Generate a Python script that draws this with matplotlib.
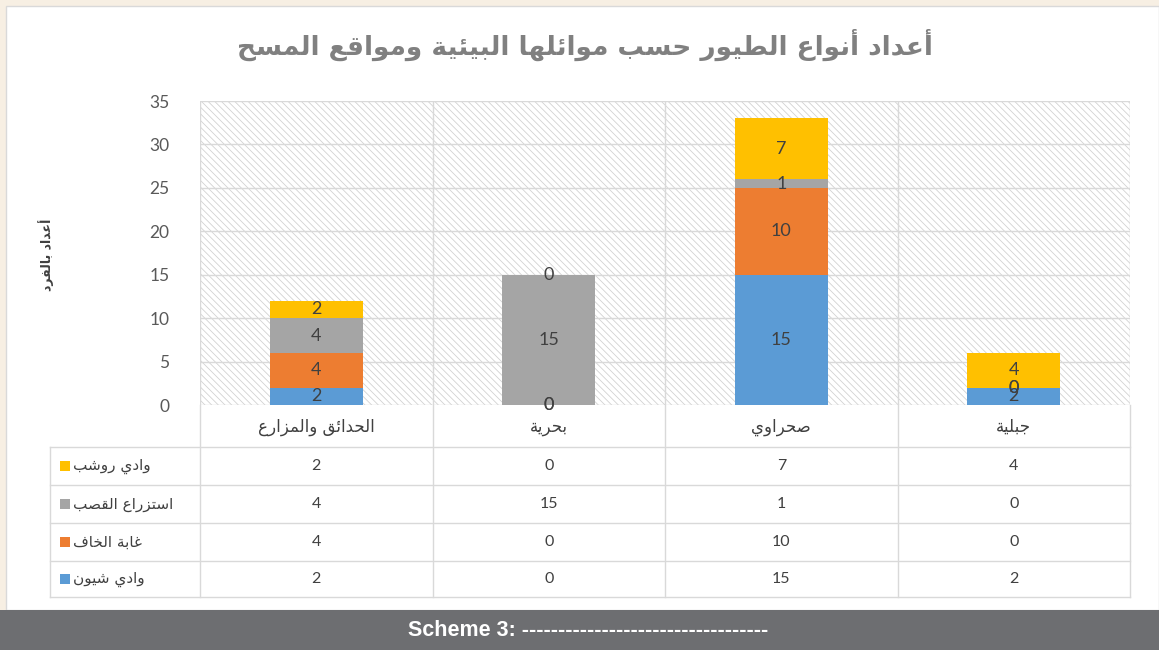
import matplotlib
matplotlib.use("Agg")
import matplotlib.pyplot as plt
from matplotlib.patches import Rectangle
import numpy as np

# data
categories = ["الحدائق والمزارع", "بحرية", "صحراوي", "جبلية"]
series_names = ["وادي شيون", "غابة الخاف", "استزراع القصب", "وادي روشب"]
shayoun = [2, 0, 15, 2]
khaf = [4, 0, 10, 0]
qasab = [4, 15, 1, 0]
rosheb = [2, 0, 7, 4]
series_values = [shayoun, khaf, qasab, rosheb]
colors = ["#5b9bd5", "#ed7d31", "#a5a5a5", "#ffc000"]

title = "أعداد أنواع الطيور حسب موائلها البيئية ومواقع المسح"
ylabel = "أعداد بالفرد"
caption = "Scheme 3: " + "-" * 34

# simple arabic shaping (contextual forms + right-to-left order)
FORMS = {
    'ء': (0xFE80, 1), 'آ': (0xFE81, 2), 'أ': (0xFE83, 2), 'ؤ': (0xFE85, 2), 'إ': (0xFE87, 2),
    'ئ': (0xFE89, 4), 'ا': (0xFE8D, 2), 'ب': (0xFE8F, 4), 'ة': (0xFE93, 2), 'ت': (0xFE95, 4),
    'ث': (0xFE99, 4), 'ج': (0xFE9D, 4), 'ح': (0xFEA1, 4), 'خ': (0xFEA5, 4), 'د': (0xFEA9, 2),
    'ذ': (0xFEAB, 2), 'ر': (0xFEAD, 2), 'ز': (0xFEAF, 2), 'س': (0xFEB1, 4), 'ش': (0xFEB5, 4),
    'ص': (0xFEB9, 4), 'ض': (0xFEBD, 4), 'ط': (0xFEC1, 4), 'ظ': (0xFEC5, 4), 'ع': (0xFEC9, 4),
    'غ': (0xFECD, 4), 'ف': (0xFED1, 4), 'ق': (0xFED5, 4), 'ك': (0xFED9, 4), 'ل': (0xFEDD, 4),
    'م': (0xFEE1, 4), 'ن': (0xFEE5, 4), 'ه': (0xFEE9, 4), 'و': (0xFEED, 2), 'ى': (0xFEEF, 2),
    'ي': (0xFEF1, 4),
}
LAM_ALEF = {'ا': 0xFEFB, 'أ': 0xFEF7, 'إ': 0xFEF9, 'آ': 0xFEF5}


def shape(s):
    chars = []
    i = 0
    while i < len(s):
        if s[i] == 'ل' and i + 1 < len(s) and s[i + 1] in LAM_ALEF:
            chars.append(('LA', s[i + 1]))
            i += 2
        else:
            chars.append(s[i])
            i += 1
    out = []
    for k, c in enumerate(chars):
        prev = chars[k - 1] if k > 0 else None
        nxt = chars[k + 1] if k + 1 < len(chars) else None
        joins_prev = (prev is not None and not isinstance(prev, tuple)
                      and FORMS.get(prev, (0, 0))[1] == 4)
        if isinstance(c, tuple):
            out.append(chr(LAM_ALEF[c[1]] + (1 if joins_prev else 0)))
            continue
        if c not in FORMS:
            out.append(c)
            continue
        base, n = FORMS[c]
        joins_next = n == 4 and nxt is not None and (
            isinstance(nxt, tuple) or (nxt in FORMS and FORMS[nxt][1] > 1))
        if n == 1:
            code = base
        elif n == 2:
            code = base + (1 if joins_prev else 0)
        else:
            if joins_prev and joins_next:
                code = base + 3
            elif joins_prev:
                code = base + 1
            elif joins_next:
                code = base + 2
            else:
                code = base
        out.append(chr(code))
    return ''.join(reversed(out))


plt.rcParams['font.family'] = ['Lato', 'DejaVu Sans']
plt.rcParams['hatch.linewidth'] = 0.6
W, H = 1159, 650
fig = plt.figure(figsize=(W / 100, H / 100), dpi=100)
fig.patch.set_facecolor('#f7efe3')

# overlay axes in pixel coordinates for frame / table / caption
bg = fig.add_axes([0, 0, 1, 1], zorder=0)
bg.set_xlim(0, W)
bg.set_ylim(H, 0)
bg.axis('off')
bg.add_patch(Rectangle((6, 6), W - 6, 604, facecolor='white', edgecolor='#d9d9d9', lw=1))
bg.add_patch(Rectangle((0, 610), W, 40, facecolor='#6d6e71', edgecolor='none'))
bg.text(408, 631, caption, color='white', fontsize=15.5, fontweight='bold',
        ha='left', va='center', family='Liberation Sans')
bg.text(585, 45, shape(title), color='#808080', fontsize=19, fontweight='bold',
        ha='center', va='center', family='DejaVu Sans')
bg.text(46, 255, shape(ylabel), color='#404040', fontsize=9, fontweight='bold',
        ha='center', va='center', rotation=90, family='DejaVu Sans')

# main plot axes
px_left, px_right, px_top, px_bottom = 200, 1130, 101, 405
ax = fig.add_axes([px_left / W, 1 - px_bottom / H, (px_right - px_left) / W,
                   (px_bottom - px_top) / H], zorder=1)
ax.patch.set_alpha(0)
x = np.arange(len(categories))
ax.set_xlim(-0.5, len(categories) - 0.5)
ax.set_ylim(0, 35)
ax.add_patch(Rectangle((-0.5, 0), len(categories), 35, facecolor='white',
                       edgecolor='#d2d2d2', hatch='\\\\\\\\\\', lw=0, zorder=0))
for yv in range(0, 36, 5):
    ax.axhline(yv, color='#d9d9d9', lw=1, zorder=1)
for xv in np.arange(-0.5, len(categories), 1.0):
    ax.axvline(xv, color='#d9d9d9', lw=1, zorder=1)

bottom = np.zeros(len(categories))
for vals, col in zip(series_values, colors):
    bars = ax.bar(x, vals, width=0.4, bottom=bottom, color=col, zorder=2)
    ax.bar_label(bars, labels=[str(v) for v in vals], label_type='center',
                 color='#404040', fontsize=13, zorder=3)
    bottom += np.array(vals)

ax.set_yticks(range(0, 36, 5))
ax.set_xticks([])
ax.tick_params(axis='y', length=0, labelsize=12.5, labelcolor='#595959', pad=22)
for s in ax.spines.values():
    s.set_visible(False)

# data table
col_w = (px_right - px_left) / len(categories)
row_lines = [405, 447, 485, 523, 561, 597]
tbl_left = 50
line_c = '#d9d9d9'
for yv in row_lines[1:]:
    bg.plot([tbl_left, px_right], [yv, yv], color=line_c, lw=1, zorder=1)
bg.plot([tbl_left, tbl_left], [row_lines[1], row_lines[-1]], color=line_c, lw=1)
for j in range(len(categories) + 1):
    xv = px_left + j * col_w
    bg.plot([xv, xv], [row_lines[0], row_lines[-1]], color=line_c, lw=1)

for j, cat in enumerate(categories):
    bg.text(px_left + (j + 0.5) * col_w, (row_lines[0] + row_lines[1]) / 2 + 1, shape(cat),
            ha='center', va='center', fontsize=12, color='#404040', family='DejaVu Sans')

table_order = list(range(len(series_names)))[::-1]
for r, si in enumerate(table_order):
    yc = (row_lines[r + 1] + row_lines[r + 2]) / 2
    bg.add_patch(Rectangle((60, yc - 5), 10, 10, facecolor=colors[si], edgecolor='none'))
    bg.text(73, yc, shape(series_names[si]), ha='left', va='center', fontsize=11,
            color='#404040', family='DejaVu Sans')
    for j, v in enumerate(series_values[si]):
        bg.text(px_left + (j + 0.5) * col_w, yc, str(v), ha='center', va='center',
                fontsize=11.5, color='#404040')

fig.savefig('out.png', dpi=100, facecolor=fig.get_facecolor())
